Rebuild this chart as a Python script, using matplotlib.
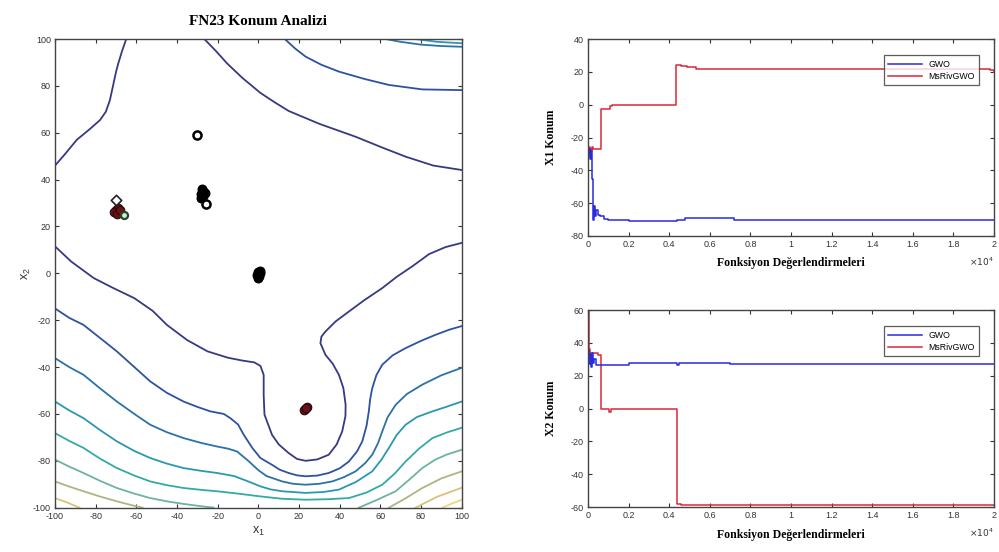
import numpy as np
import matplotlib
matplotlib.use("Agg")
import matplotlib.pyplot as plt

plt.rcParams['axes.unicode_minus'] = False

# ---------------------------------------------------------------
# Contour lines of the FN23 landscape (traced polylines, x1 / x2)
# ---------------------------------------------------------------
lvl1_u = [(-100, 11.5), (-92, 5), (-81, -2), (-72, -6), (-61, -10.6), (-52, -16),
          (-45, -22), (-35, -28.5), (-25, -33.3), (-15, -36), (-8, -37.2), (-2, -38),
          (1, -39.5), (2.6, -43.3), (2.6, -52), (3, -60.3), (6.7, -68.9), (10, -73),
          (14.9, -76.7), (19, -79.2), (23.2, -80), (29, -79.4), (34.6, -77.4),
          (38.5, -73), (41.2, -67.5), (42.8, -61), (42.9, -56.1), (41.8, -49),
          (39.6, -43.3), (36.5, -38.5), (33, -34.8), (30.5, -29.8), (31, -27),
          (33, -24.8), (38, -20.5), (44.5, -16.3), (52, -11.5), (60.9, -6.3),
          (68, -1.5), (75.7, 3), (83.9, 8.2), (92, 11.2), (100, 13)]
lvl1_left = [(-100, 46), (-95, 51), (-89.3, 57), (-83, 61.5), (-77.9, 65.4), (-75, 69),
             (-73, 74), (-71.5, 80), (-70, 86), (-68.9, 89.6), (-67, 95), (-65, 100)]
lvl1_top = [(-26.6, 100), (-21, 95), (-15.4, 89.6), (-8, 83.5), (1, 77), (8, 73),
            (14.9, 69.3), (30, 63.8), (47.8, 58.3), (60, 54), (72.4, 49.8), (86, 46),
            (100, 44.1)]
lvl2_top = [(13, 100), (18, 96), (23.2, 92.5), (31, 89), (39.6, 86.1), (52, 83),
            (64.2, 80.4), (80.6, 78.5), (100, 78.2)]
lvl3_top = [(62.6, 100), (70, 98.8), (80, 97.6), (90, 97), (100, 96.7)]
lvl4_top = [(77, 100), (88, 98.8), (100, 98.2)]

lvl2 = [(-100, -15), (-93, -19), (-86, -22), (-78, -27.5), (-69.6, -33.3), (-61, -40),
        (-53.2, -46.1), (-45, -51), (-36.8, -54.7), (-30, -57), (-23.6, -58.9),
        (-17, -60), (-13.8, -61.8), (-10, -64.5), (-7.2, -68.9), (-3, -74.5),
        (1, -78.8), (6.7, -81.7), (10.5, -83.8), (14.9, -85.2), (19, -86.2),
        (23.2, -86.6), (29, -86.3), (34.6, -85.2), (40, -83.2), (44.5, -80.3),
        (48.5, -76), (51.1, -71.7), (53.2, -65), (54.3, -58.9), (55, -53.5),
        (56, -49), (58, -43.5), (60.9, -39), (66, -35), (72.4, -31.9), (80, -28.8),
        (87.2, -26.2), (94, -24), (100, -22.5)]
lvl3 = [(-100, -36.2), (-93, -40), (-86, -43.3), (-78, -49), (-69.6, -54.7), (-61, -60),
        (-53.2, -64.6), (-45, -67.8), (-36.8, -70.3), (-28, -72.4), (-20.3, -73.9),
        (-15, -74.8), (-10.5, -76), (-5, -80), (0, -84), (4, -86.5), (11.7, -88.8),
        (17, -89.8), (23.2, -90.2), (30, -89.8), (36.3, -88.8), (42, -87),
        (47.8, -84.5), (52.5, -81), (56, -77.4), (58.8, -72.5), (60.9, -67.5),
        (63.5, -61.5), (67.5, -56.1), (73, -51.5), (80.6, -47.5), (90, -43.5),
        (100, -40.3)]
lvl4 = [(-100, -54.7), (-93, -58.5), (-86, -61.8), (-78, -66.8), (-69.6, -71.7),
        (-61, -75.8), (-53.2, -78.8), (-45, -81.2), (-36.8, -83.1), (-28, -84.3),
        (-20.3, -85.2), (-12, -86.5), (-5, -88.8), (1, -90.9), (6, -92.2),
        (11.7, -93), (23.2, -93.7), (32, -93.3), (39.6, -92.3), (48, -89), (56, -84.5),
        (60.5, -79.5), (64.2, -74.5), (68, -69), (72.4, -64.6), (78, -61.3),
        (85.6, -58.9), (93, -56.8), (100, -54.7)]
lvl5 = [(-100, -68.2), (-93, -71.5), (-86, -74.5), (-78, -79), (-69.6, -83.1),
        (-61, -86.3), (-53.2, -88.8), (-45, -90.4), (-36.8, -91.6), (-28, -92.4),
        (-20.3, -93), (-10, -94), (1, -95.2), (11.7, -96.2), (23.2, -96.6),
        (34, -96.4), (44.5, -95.9), (53, -93.6), (60.9, -90.2), (67, -85.5),
        (72.4, -80.3), (79, -74.8), (85.6, -70.3), (93, -67.8), (100, -65.9)]
lvl6_left = [(-100, -79.5), (-93, -82.5), (-86, -85.2), (-78, -88.5), (-69.6, -91.6),
             (-61, -94), (-53.2, -95.9), (-45, -97.3), (-36.8, -98.4), (-28, -99.4),
             (-22, -100)]
lvl6_right = [(49.4, -100), (58, -96.8), (67.5, -93), (74, -88.2), (80.6, -83.1),
              (87, -79.5), (93, -77.2), (100, -75.3)]
lvl7_left = [(-100, -88.8), (-93, -91), (-86, -93), (-78, -95.2), (-69.6, -97.3),
             (-62, -99), (-57, -100)]
lvl7_right = [(64.2, -100), (72, -96.2), (80.6, -91.6), (90, -87.5), (100, -84.5)]
lvl8_left = [(-100, -95.9), (-94, -97.8), (-88, -100)]
lvl8_right = [(77.3, -100), (88, -95.3), (100, -91.5)]
lvl9_right = [(90.5, -100), (95, -98.3), (100, -96.6)]

level_colors = ['#363a80', '#2d52a0', '#2a72a8', '#2b97b0', '#34a9a6',
                '#6cb49c', '#a8b882', '#d8c27a', '#eed77a']
contours = [
    (lvl1_u, 0), (lvl1_left, 0), (lvl1_top, 0),
    (lvl2_top, 1), (lvl3_top, 2), (lvl4_top, 3),
    (lvl2, 1), (lvl3, 2), (lvl4, 3), (lvl5, 4),
    (lvl6_left, 5), (lvl6_right, 5), (lvl7_left, 6), (lvl7_right, 6),
    (lvl8_left, 7), (lvl8_right, 7), (lvl9_right, 8),
]

# search agent positions
gwo_x1 = [-27.5, -28, -27, -26.5, -28, -27.2, 0, 0.6, -0.6, 0.2, 0.8, -0.3]
gwo_x2 = [36, 34, 33, 34.5, 32, 35, 0.5, 0, -0.5, -1.2, 0.8, -2]
gwo_ring_x1 = [-30, -26]
gwo_ring_x2 = [59, 29.5]
msr_x1 = [-70, -69, -71, -69.5, -68, 23, 24, 22.5, 23.5]
msr_x2 = [27, 28, 26, 25.5, 27, -58, -57, -58.5, -57.5]

# ---------------------------------------------------------------
# Convergence histories (function evaluations vs position)
# ---------------------------------------------------------------
gwo_x1_evals = [0, 50, 100, 150, 200, 250, 300, 350, 400, 500, 600, 800, 1000,
                2000, 4400, 4800, 7200, 20000]
gwo_x1_vals = [-30, -27, -33, -28, -45, -70, -62, -68, -64, -67, -68, -69.5, -70,
               -70.8, -70, -69, -70, -70]
msr_x1_evals = [0, 40, 80, 120, 160, 200, 240, 300, 660, 1100, 1200, 4350, 4600,
                4900, 5300, 19800, 20000]
msr_x1_vals = [-32, -26, -30, -27, -28, -26, -27, -27, -2.5, -1, 0, 24, 23.5, 23,
               22, 21, 20]

gwo_x2_evals = [0, 30, 60, 100, 150, 200, 250, 300, 400, 2000, 4400, 4500, 4800,
                7000, 20000]
gwo_x2_vals = [29, 35, 27, 33, 25, 34, 28, 30, 26.5, 28, 26.5, 28, 28, 27, 27]
msr_x2_evals = [0, 30, 60, 100, 200, 480, 660, 1050, 1150, 4400, 4600, 20000]
msr_x2_vals = [60, 40, 36, 34, 34, 32.5, 0, -2, 0, -58, -59, -59]

SERIF = 'Liberation Serif'
SANS = 'Liberation Sans'
TICK_COLOR = '#333333'

fig = plt.figure(figsize=(9.99, 5.52), dpi=100)
fig.patch.set_facecolor('white')


def style_axes(ax):
    ax.tick_params(direction='in', top=True, right=True, length=3, width=0.8,
                   labelsize=6.5, colors=TICK_COLOR, pad=3)
    for lab in ax.get_xticklabels() + ax.get_yticklabels():
        lab.set_fontfamily(SANS)
    for sp in ax.spines.values():
        sp.set_color('#444444')
        sp.set_linewidth(1.0)


# ---- left: contour map with agent positions ----
ax = fig.add_axes([0.0551, 0.0803, 0.4071, 0.849])
for pts, lvl in contours:
    arr = np.array(pts)
    ax.plot(arr[:, 0], arr[:, 1], color=level_colors[lvl], lw=1.3)

ax.scatter(gwo_x1, gwo_x2, s=38, c='black', edgecolors='black', zorder=5)
ax.scatter(gwo_ring_x1, gwo_ring_x2, s=34, c='white', edgecolors='black',
           linewidths=1.8, zorder=6)
ax.scatter(msr_x1, msr_x2, s=38, c='#6b1018', edgecolors='#2a0a0a',
           linewidths=0.8, zorder=5)
ax.scatter([-70], [31.5], s=28, marker='D', c='white', edgecolors='#222222',
           linewidths=1.2, zorder=7)
ax.scatter([-66], [25], s=26, c='#d8e8d8', edgecolors='#1f4a2a',
           linewidths=1.6, zorder=7)

ax.set_xlim(-100, 100)
ax.set_ylim(-100, 100)
ax.set_xticks(np.arange(-100, 101, 20))
ax.set_yticks(np.arange(-100, 101, 20))
style_axes(ax)
ax.set_xlabel(r'$\mathregular{x_1}$', fontsize=9, color=TICK_COLOR, family=SANS,
              labelpad=3)
ax.set_ylabel(r'$\mathregular{x_2}$', fontsize=9, color=TICK_COLOR, family=SANS,
              labelpad=0)
ax.set_title('FN23 Konum Analizi', fontsize=11, fontweight='bold',
             family=SERIF, pad=10)

# ---- right: X1 / X2 histories ----
panels = [
    ([0.5886, 0.5725, 0.4064, 0.3568], gwo_x1_evals, gwo_x1_vals,
     msr_x1_evals, msr_x1_vals, (-80, 40), 'X1 Konum'),
    ([0.5886, 0.0815, 0.4064, 0.3569], gwo_x2_evals, gwo_x2_vals,
     msr_x2_evals, msr_x2_vals, (-60, 60), 'X2 Konum'),
]
for rect, ge, gv, me, mv, ylim, ylabel in panels:
    a = fig.add_axes(rect)
    a.plot(np.array(me) / 1e4, mv, drawstyle='steps-post', color='#d8283a',
           lw=1.1, label='MsRivGWO')
    a.plot(np.array(ge) / 1e4, gv, drawstyle='steps-post', color='#2a2ae0',
           lw=1.1, label='GWO')
    a.set_xlim(0, 2)
    a.set_ylim(*ylim)
    a.set_xticks(np.arange(0, 2.01, 0.2))
    a.set_xticklabels(['0', '0.2', '0.4', '0.6', '0.8', '1', '1.2', '1.4',
                       '1.6', '1.8', '2'])
    a.set_yticks(np.arange(ylim[0], ylim[1] + 1, 20))
    style_axes(a)
    a.set_xlabel('Fonksiyon Değerlendirmeleri', fontsize=8.5, fontweight='bold',
                 family=SERIF, labelpad=6)
    a.set_ylabel(ylabel, fontsize=8.5, fontweight='bold', family=SERIF,
                 labelpad=10)
    a.text(1.0, -0.1, r'$\times10^4$', transform=a.transAxes, ha='right',
           va='top', fontsize=6.5, color=TICK_COLOR)
    handles, labels = a.get_legend_handles_labels()
    leg = a.legend(handles[::-1], labels[::-1], loc='upper right',
                   bbox_to_anchor=(0.975, 0.94), frameon=True,
                   fancybox=False, edgecolor='#333333', handlelength=3.8,
                   borderpad=0.5, labelspacing=0.35,
                   prop={'family': SANS, 'size': 6.3})
    leg.get_frame().set_linewidth(0.9)

fig.savefig('out.png', dpi=100, facecolor='white')
